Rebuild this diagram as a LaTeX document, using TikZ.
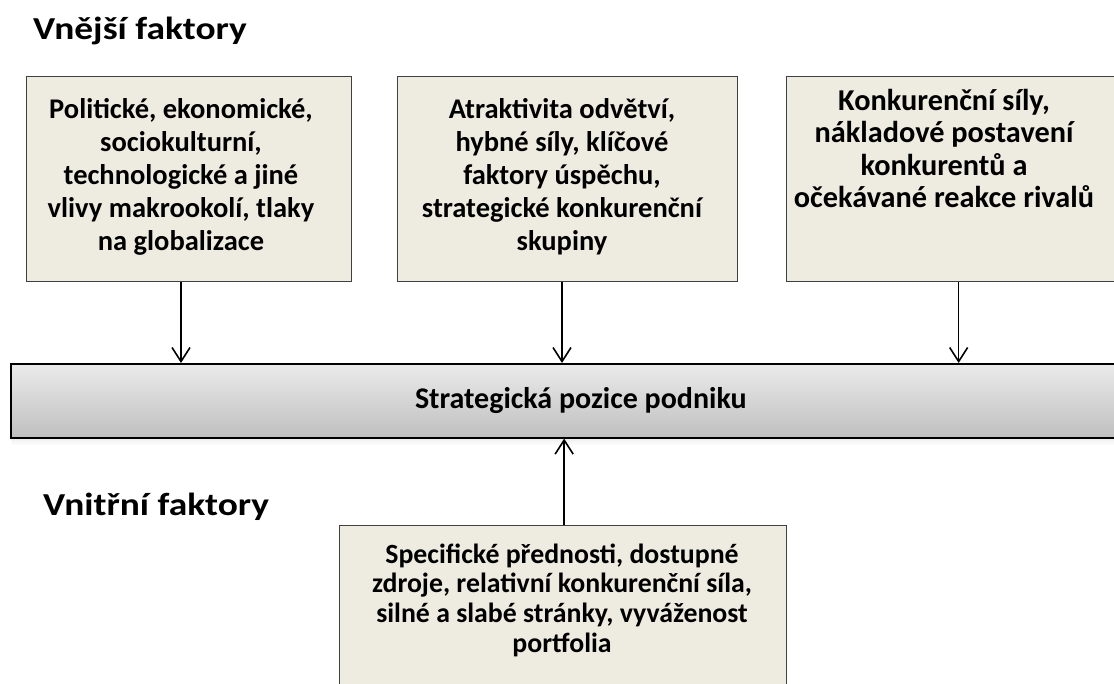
\documentclass[tikz,border=0pt]{standalone}
\usepackage{fontspec}
\setmainfont{Carlito}
\newfontfamily\titlefont{Carlito}[FakeStretch=1.17]
\usetikzlibrary{arrows.meta}
\newcommand\lines[1]{\begin{tabular}[t]{@{}c@{}}#1\end{tabular}}
\begin{document}
\begin{tikzpicture}[x=1pt,y=-1pt,
  fbox/.style={draw=black!75, line width=1.3pt, fill=boxfill, inner sep=0pt, anchor=north west},
  btext/.style={font=\bfseries\fontsize{28.5}{33}\selectfont, anchor=base, inner sep=0pt},
  title/.style={font=\titlefont\bfseries\fontsize{32}{38}\selectfont, anchor=base west, inner sep=0pt},
  arr/.style={line width=1.6pt, -{Straight Barb[length=14pt,width=18pt,line width=1.6pt]}}
]
\definecolor{boxfill}{HTML}{EEECE1}
\useasboundingbox (0,0) rectangle (1114,684);
\fill[white] (0,0) rectangle (1114,684);

% titles
\node[title] (t1) at (33,39.5) {Vnější faktory};
\node[title] (t2) at (43,515) {Vnitřní faktory};

% top boxes
\node[fbox, minimum width=325pt, minimum height=205pt] (b1) at (26,76) {};
\node[fbox, minimum width=340pt, minimum height=205pt] (b2) at (397,76) {};
\node[fbox, minimum width=340pt, minimum height=205pt] (b3) at (786,76) {};

\node[btext] (x1) at (181,118.3) {\lines{Politické, ekonomické,\\sociokulturní,\\technologické a jiné\\vlivy makrookolí, tlaky\\na globalizace}};
\node[btext] (x2) at (562,118.3) {\lines{Atraktivita odvětví,\\hybné síly, klíčové\\faktory úspěchu,\\strategické konkurenční\\skupiny}};
\node[btext, font=\bfseries\fontsize{30.3}{32.5}\selectfont] (x3) at (944,110.5) {\lines{Konkurenční síly,\\nákladové postavení\\konkurentů a\\očekávané reakce rivalů}};

% shadow of bar
\foreach \i/\o in {1/0.10,2/0.08,3/0.06,4/0.05,5/0.04,6/0.03,7/0.02,8/0.015}
  \fill[black, opacity=\o] (10+\i*0.3,437+\i-1) rectangle (1150,437+\i);
% bar
\node[draw=black, line width=1.6pt, top color=black!8, bottom color=black!25, inner sep=0pt,
      minimum width=1140pt, minimum height=74pt, anchor=north west,
      font=\bfseries\fontsize{30}{33}\selectfont] (bar) at (10,363) {Strategická pozice podniku};

% bottom box
\node[fbox, minimum width=447pt, minimum height=200pt] (b4) at (339,525) {};
\node[btext, font=\bfseries\fontsize{27.8}{29.7}\selectfont] (x4) at (562,563) {\lines{Specifické přednosti, dostupné\\zdroje, relativní konkurenční síla,\\silné a slabé stránky, vyváženost\\portfolia}};

% arrows
\draw[arr] (x1.center |- b1.south) -- (x1.center |- bar.north);
\draw[arr] (x2.center |- b2.south) -- (x2.center |- bar.north);
\draw[arr] ([xshift=2pt]b3.south) -- ([xshift=2pt]b3.south |- bar.north);
\draw[arr] ([xshift=1pt]b4.north) -- ([xshift=1pt]b4.north |- bar.south);
\end{tikzpicture}
\end{document}
